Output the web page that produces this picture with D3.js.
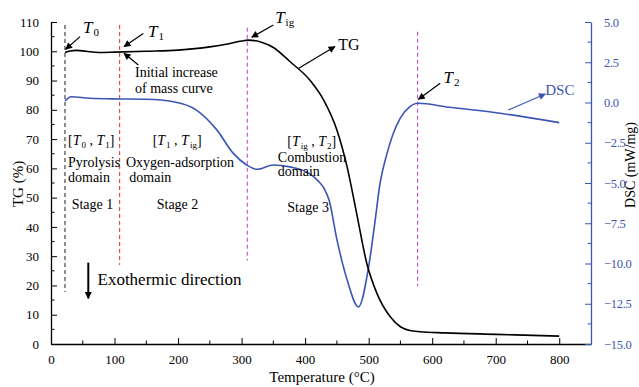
<!DOCTYPE html>
<html>
<head>
<meta charset="utf-8">
<script src="https://cdn.jsdelivr.net/npm/d3@7"></script>
<style>
  body { margin: 0; background: #fff; }
  svg text { font-family: "Liberation Serif", "Times New Roman", serif; }
</style>
</head>
<body>
<div id="chart"></div>
<script>
// TG curve (temperature in °C, mass in %)
var tgTemp = [22, 30, 40, 55, 75, 100, 150, 200, 250, 280, 300, 310, 330, 350, 376, 408, 429, 450, 466, 481, 497, 513, 534, 550, 565, 581, 620, 700, 800];
var tgMass = [99.6, 100.1, 100.3, 100.0, 99.6, 99.7, 100.0, 100.4, 101.5, 102.6, 103.5, 103.8, 103.2, 101.3, 96.5, 90.0, 83.4, 73.1, 60.6, 44.7, 27.6, 17.3, 9.3, 5.9, 4.6, 4.2, 3.8, 3.3, 2.7];

// DSC curve (temperature in °C, heat flow in mW/mg)
var dscTemp = [22, 32, 61, 109, 150, 193, 229, 261, 287, 308, 324, 350, 376, 408, 420, 430, 438, 450, 466, 484, 500, 510, 518, 528, 538, 550, 565, 577, 628, 707, 800];
var dscFlow = [0.1, 0.36, 0.26, 0.22, 0.2, 0.05, -0.47, -1.7, -3.16, -3.88, -4.15, -3.88, -4.0, -4.45, -4.85, -5.35, -6.1, -8.5, -11.0, -12.7, -10.2, -7.4, -5.0, -3.3, -2.0, -0.95, -0.26, -0.05, -0.3, -0.67, -1.25];

// characteristic temperatures and the TG range of their dashed markers
var markTemp = [22, 108, 309, 577];
var markTop = [109, 109, 108, 106.7];
var markBottom = [17.8, 27, 28.5, 19.8];
var markColor = ["#333333", "#e8403a", "#cc4fc4", "#cc4fc4"];

var xTicks = [0, 100, 200, 300, 400, 500, 600, 700, 800];
var tgTicks = [0, 10, 20, 30, 40, 50, 60, 70, 80, 90, 100, 110];
var dscTicks = [-15, -12.5, -10, -7.5, -5, -2.5, 0, 2.5, 5];

var blue = "#3b55b3";
var serif = "'Liberation Serif', 'Times New Roman', serif";

var W = 639, H = 387;
var margin = { top: 22, left: 51, right: 48, bottom: 43 };
var w = W - margin.left - margin.right;
var h = H - margin.top - margin.bottom;

var svg = d3.select("#chart").append("svg")
    .attr("width", W)
    .attr("height", H)
    .style("font-family", serif);

var defs = svg.append("defs");
function marker(id, color) {
    defs.append("marker")
        .attr("id", id)
        .attr("viewBox", "0 0 10 10")
        .attr("refX", 9).attr("refY", 5)
        .attr("markerWidth", 10).attr("markerHeight", 7)
        .attr("markerUnits", "userSpaceOnUse")
        .attr("orient", "auto")
        .append("path").attr("d", "M0,0 L10,5 L0,10 Z").attr("fill", color);
}
marker("head", "#000");
marker("headBlue", blue);

var g = svg.append("g")
    .attr("transform", "translate(" + margin.left + "," + margin.top + ")");

var x = d3.scaleLinear().domain([0, 850]).range([0, w]);
var y = d3.scaleLinear().domain([0, 110]).range([h, 0]);
var y2 = d3.scaleLinear().domain([-15, 5]).range([h, 0]);

// axes: ticks point inward
var xAxis = g.append("g").attr("transform", "translate(0," + h + ")")
    .call(d3.axisBottom(x).tickValues(xTicks).tickSizeInner(-6).tickSizeOuter(0).tickPadding(11));
xAxis.append("g").selectAll("line").data(d3.range(50, 850, 100)).enter()
    .append("line").attr("x1", function(d) { return x(d); }).attr("x2", function(d) { return x(d); })
    .attr("y1", 0).attr("y2", -3.5).attr("stroke", "#000");

var yAxis = g.append("g")
    .call(d3.axisLeft(y).tickValues(tgTicks).tickSizeInner(-6).tickSizeOuter(0).tickPadding(12));
yAxis.append("g").selectAll("line").data(d3.range(5, 110, 10)).enter()
    .append("line").attr("y1", function(d) { return y(d); }).attr("y2", function(d) { return y(d); })
    .attr("x1", 0).attr("x2", 3.5).attr("stroke", "#000");

var y2Axis = g.append("g").attr("transform", "translate(" + w + ",0)")
    .call(d3.axisRight(y2).tickValues(dscTicks).tickFormat(d3.format(".1f")).tickSizeInner(-6).tickSizeOuter(0).tickPadding(13));
y2Axis.append("g").selectAll("line").data(d3.range(-13.75, 5, 2.5)).enter()
    .append("line").attr("y1", function(d) { return y2(d); }).attr("y2", function(d) { return y2(d); })
    .attr("x1", 0).attr("x2", -3.5).attr("stroke", blue);
y2Axis.selectAll("line, path").attr("stroke", blue);
y2Axis.selectAll("text").attr("fill", blue);

[xAxis, yAxis, y2Axis].forEach(function(a) {
    a.attr("font-family", serif).attr("font-size", 13);
    a.selectAll("text").style("font-family", serif).style("font-size", "13px");
    a.select(".domain").attr("stroke-width", 1.3);
});
y2Axis.selectAll("text").style("font-size", "12.5px").style("letter-spacing", "-0.3px");

// axis titles
svg.append("text").attr("x", 322).attr("y", 382).attr("text-anchor", "middle")
    .style("font-size", "15px").text("Temperature (°C)");
svg.append("text").attr("transform", "translate(23,184) rotate(-90)").attr("text-anchor", "middle")
    .style("font-size", "15px").text("TG (%)");
svg.append("text").attr("transform", "translate(635,165) rotate(-90)").attr("text-anchor", "middle")
    .style("font-size", "14px").text("DSC (mW/mg)");

// dashed markers
g.selectAll(".mark").data(markTemp).enter().append("line")
    .attr("x1", function(d) { return x(d); }).attr("x2", function(d) { return x(d); })
    .attr("y1", function(d, i) { return y(markTop[i]); })
    .attr("y2", function(d, i) { return y(markBottom[i]); })
    .attr("stroke", function(d, i) { return markColor[i]; })
    .attr("stroke-width", 1.1)
    .attr("stroke-dasharray", "4,3");

// curves
var tgLine = d3.line()
    .x(function(d, i) { return x(tgTemp[i]); })
    .y(function(d) { return y(d); })
    .curve(d3.curveMonotoneX);
var dscLine = d3.line()
    .x(function(d, i) { return x(dscTemp[i]); })
    .y(function(d) { return y2(d); })
    .curve(d3.curveMonotoneX);

g.append("path").datum(dscFlow).attr("d", dscLine)
    .attr("fill", "none").attr("stroke", blue).attr("stroke-width", 1.6);
g.append("path").datum(tgMass).attr("d", tgLine)
    .attr("fill", "none").attr("stroke", "#000").attr("stroke-width", 1.6);

// arrows [x1, v1, x2, v2, scale]
var arrows = [
    [45.7, 105, 23.1, 100.7, "tg"],
    [145.4, 106.1, 115, 101.6, "tg"],
    [137.5, 95.3, 115, 99.3, "tg"],
    [350, 109, 316, 104.8, "tg"],
    [390, 94.2, 447, 101.6, "tg"],
    [612.6, 1.19, 578.4, 0.2, "dsc"],
    [720, -0.47, 778, 0.53, "dsc"],
    [58.7, 27.8, 58.7, 15.6, "tg"]
];
g.selectAll(".arrow").data(arrows).enter().append("line")
    .attr("x1", function(d) { return x(d[0]); })
    .attr("y1", function(d) { return d[4] == "tg" ? y(d[1]) : y2(d[1]); })
    .attr("x2", function(d) { return x(d[2]); })
    .attr("y2", function(d) { return d[4] == "tg" ? y(d[3]) : y2(d[3]); })
    .attr("stroke", function(d, i) { return i == 6 ? blue : "#000"; })
    .attr("stroke-width", function(d, i) { return i == 7 ? 2 : 1.2; })
    .attr("marker-end", function(d, i) { return i == 6 ? "url(#headBlue)" : "url(#head)"; });

// text labels: "T{x}" gives italic T with subscript x
function addLabel(str, px, py, size, color) {
    var t = g.append("text").attr("x", px).attr("y", py)
        .style("font-family", serif)
        .style("font-size", size + "px").attr("fill", color || "#000");
    var parts = str.split(/(T\{\w+\})/);
    var shifted = false;
    parts.forEach(function(p) {
        if (!p) return;
        var m = p.match(/^T\{(\w+)\}$/);
        if (m) {
            t.append("tspan").style("font-style", "italic").attr("dy", shifted ? -3 : 0).text("T");
            t.append("tspan").style("font-size", Math.round(size * 0.62) + "px").attr("dy", 3).attr("dx", 1).text(m[1]);
            shifted = true;
        } else {
            t.append("tspan").attr("dy", shifted ? -3 : 0).text(p);
            shifted = false;
        }
    });
}

var labels = [
    ["T{0}", 50.4, 106.3, 17],
    ["T{1}", 152.8, 104.9, 17],
    ["T{ig}", 352.8, 109.5, 17],
    ["Initial increase", 132.3, 91.2, 14],
    ["of mass curve", 132.3, 85.8, 14],
    ["TG", 452, 100.4, 16],
    ["[T{0} , T{1}]", 26.8, 68, 14],
    ["[T{1} , T{ig}]", 160, 68, 14],
    ["[T{ig} , T{2}]", 372, 67.8, 14],
    ["Pyrolysis", 26.8, 60.5, 14],
    ["domain", 26.8, 55.3, 14],
    ["Oxygen-adsorption", 118, 60.5, 14],
    ["domain", 123.3, 55.3, 14],
    ["Combustion", 357, 62.3, 14],
    ["domain", 357, 57.3, 14],
    ["Stage 1", 32.5, 46.1, 14],
    ["Stage 2", 166.4, 46.1, 14],
    ["Stage 3", 372, 45.2, 14],
    ["Exothermic direction", 73.2, 20.2, 17]
];
labels.forEach(function(l) { addLabel(l[0], x(l[1]), y(l[2]), l[3]); });

addLabel("T{2}", x(618), y2(1.21), 17);
addLabel("DSC", x(778), y2(0.47), 15, blue);
</script>
</body>
</html>
